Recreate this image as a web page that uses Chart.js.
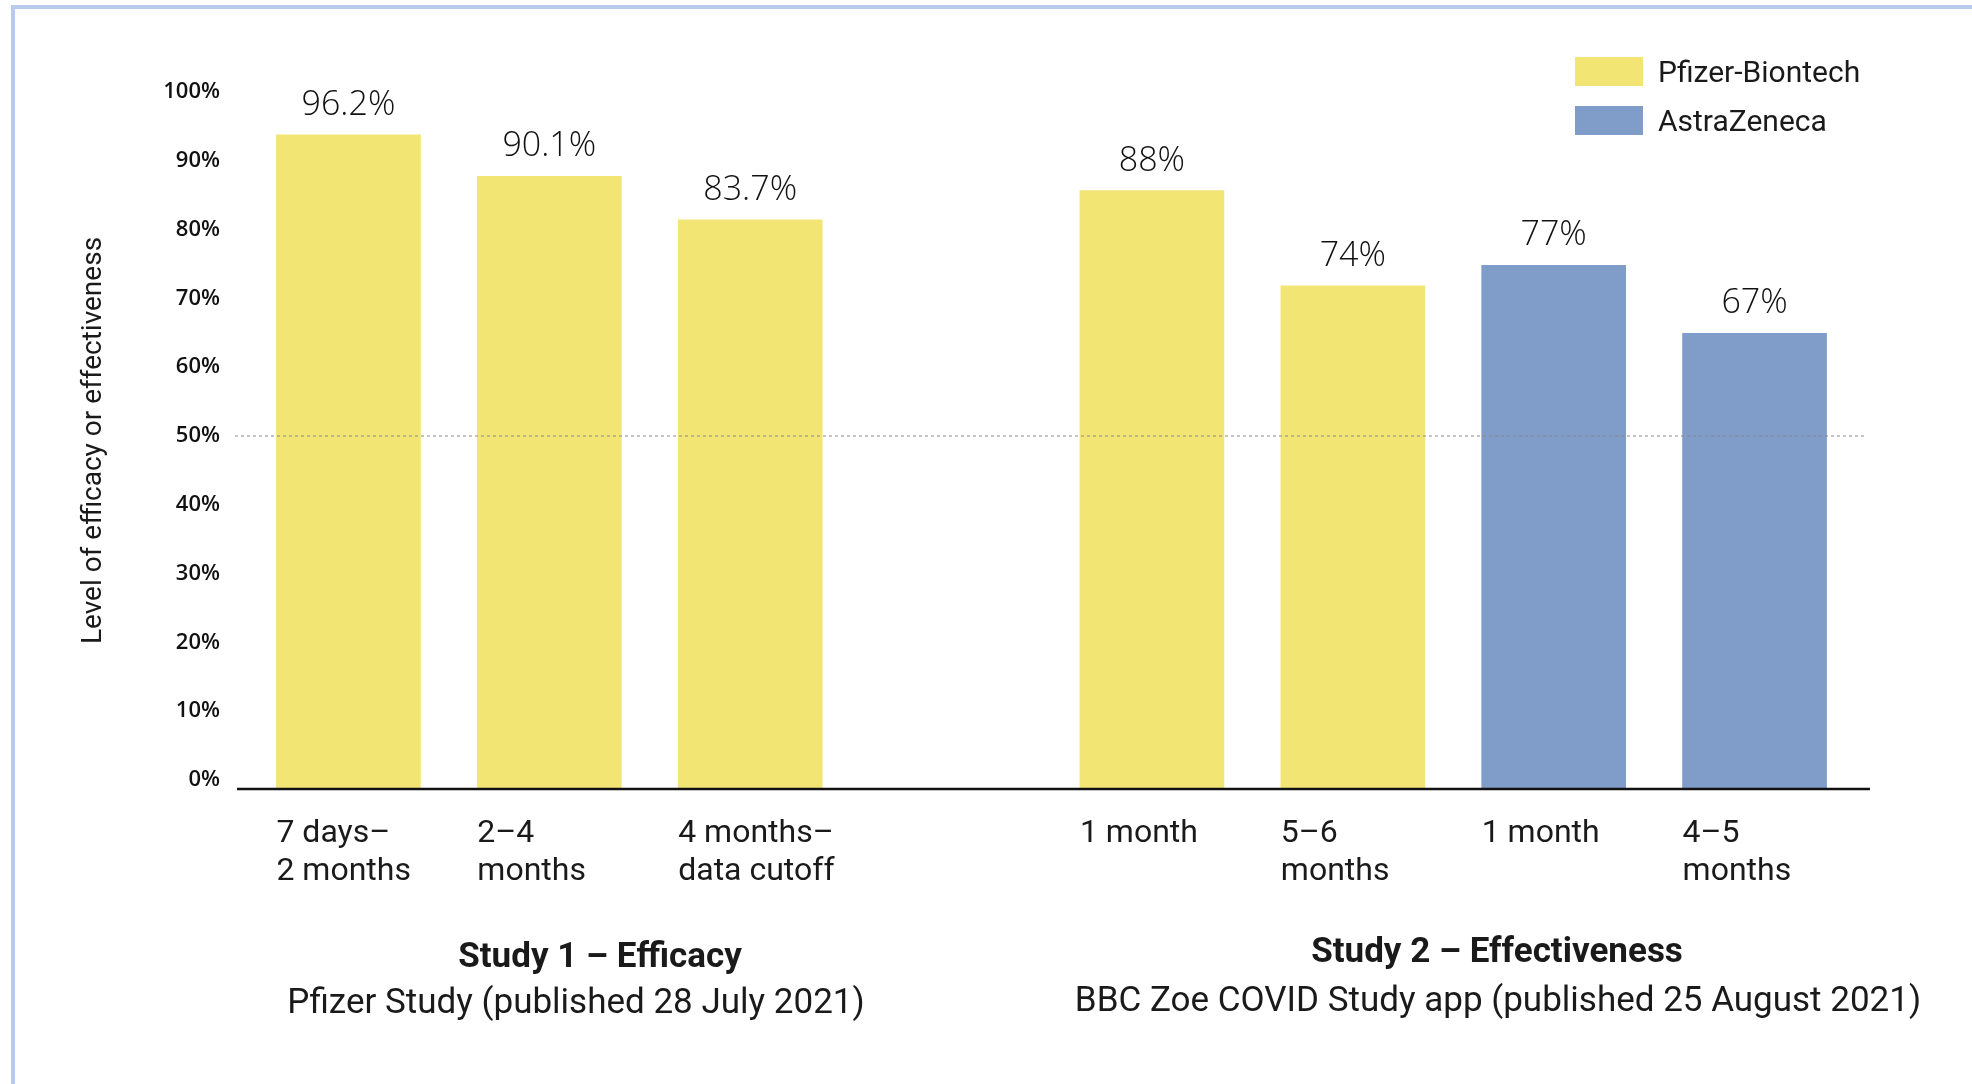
<!DOCTYPE html>
<html>
<head>
<meta charset="utf-8">
<script src="https://cdn.jsdelivr.net/npm/chart.js@4"></script>
<style>
  body { margin: 0; background: #fff; font-family: Roboto, sans-serif; color: #1a1a1a; }
  #frame { position: absolute; left: 11px; top: 5px; right: 0; bottom: 0; border-top: 4px solid #b9cbea; border-left: 4px solid #b9cbea; }
  #wrap { position: absolute; left: 0; top: 0; width: 1972px; height: 1084px; }
  .legend { position: absolute; left: 1575px; font-size: 30px; }
  .legend div { position: absolute; white-space: nowrap; }
  .box { width: 68px; height: 29px; }
  .lbl { left: 83px; line-height: 29px; }
  .study { position: absolute; transform: translateX(-50%); white-space: nowrap; font-size: 35px; line-height: 40px; }
  .study b { font-weight: 700; }
</style>
</head>
<body>
<div id="frame"></div>
<div id="wrap"><canvas id="grafico"></canvas></div>

<div class="legend" style="top:57px">
  <div class="box" style="background:#f3e574"></div><div class="lbl">Pfizer-Biontech</div>
</div>
<div class="legend" style="top:106px">
  <div class="box" style="background:#7f9dc8"></div><div class="lbl">AstraZeneca</div>
</div>

<div class="study" style="left:600px; top:936px"><b>Study 1 – Efficacy</b></div>
<div class="study" style="left:576px; top:982px">Pfizer Study (published 28 July 2021)</div>
<div class="study" style="left:1497px; top:931px"><b>Study 2 – Effectiveness</b></div>
<div class="study" style="left:1498px; top:980px">BBC Zoe COVID Study app (published 25 August 2021)</div>

<script>
// Dados do gráfico
const categorias = [['7 days–', '2 months'], ['2–4', 'months'], ['4 months–', 'data cutoff'], '', '1 month', ['5–6', 'months'], '1 month', ['4–5', 'months']];
const valoresPfizer = [96.2, 90.1, 83.7, null, 88, 74, null, null];
const valoresAstra = [null, null, null, null, null, null, 77, 67];
const ticksY = [0, 10, 20, 30, 40, 50, 60, 70, 80, 90, 100];

const corPfizer = '#f3e574';
const corAstra = '#7f9dc8';

// Plugin: linha de base, linha tracejada dos 50% e rótulos dos valores
const desenhoExtra = {
    id: 'desenhoExtra',
    afterDatasetsDraw(chart) {
        const ctx = chart.ctx;
        const area = chart.chartArea;
        const y0 = chart.scales.y.getPixelForValue(0);
        const y50 = chart.scales.yl.getPixelForValue(50);

        ctx.save();
        ctx.strokeStyle = '#888';
        ctx.lineWidth = 1;
        ctx.setLineDash([3, 3]);
        ctx.beginPath();
        ctx.moveTo(area.left - 13, y50);
        ctx.lineTo(area.right + 9, y50);
        ctx.stroke();

        ctx.setLineDash([]);
        ctx.strokeStyle = '#111';
        ctx.lineWidth = 2.5;
        ctx.beginPath();
        ctx.moveTo(area.left - 11, y0);
        ctx.lineTo(area.right + 15, y0);
        ctx.stroke();

        ctx.fillStyle = '#111';
        ctx.font = '300 34px "Open Sans"';
        ctx.textAlign = 'center';
        ctx.textBaseline = 'alphabetic';
        chart.data.datasets.forEach((ds, i) => {
            chart.getDatasetMeta(i).data.forEach((bar, j) => {
                const v = ds.data[j];
                if (v === null) return;
                ctx.fillText(v + '%', bar.x, bar.y - 20);
            });
        });
        ctx.restore();
    }
};

const ctx = document.getElementById('grafico').getContext('2d');
new Chart(ctx, {
    type: 'bar',
    data: {
        labels: categorias,
        datasets: [
            { label: 'Pfizer-Biontech', data: valoresPfizer, backgroundColor: corPfizer, barThickness: 144, yAxisID: 'y' },
            { label: 'AstraZeneca', data: valoresAstra, backgroundColor: corAstra, barThickness: 144, yAxisID: 'y' }
        ]
    },
    options: {
        responsive: true,
        maintainAspectRatio: false,
        animation: false,
        layout: { padding: { top: 92, right: 117, left: 0, bottom: 0 } },
        plugins: {
            legend: { display: false },
            tooltip: { enabled: false }
        },
        scales: {
            x: {
                stacked: true,
                grid: { display: false },
                border: { display: false },
                ticks: {
                    align: 'start',
                    labelOffset: -72,
                    padding: 18,
                    color: '#1a1a1a',
                    font: { family: 'Roboto', size: 32, lineHeight: 1.18 },
                    maxRotation: 0,
                    autoSkip: false
                },
                afterFit(scale) { scale.height = 295; }
            },
            y: {
                display: false,
                stacked: true,
                min: 0,
                max: 102.5
            },
            yl: {
                position: 'left',
                min: -1.308,
                max: 100,
                grid: { display: false, drawTicks: false },
                border: { display: false },
                afterBuildTicks(scale) { scale.ticks = ticksY.map(v => ({ value: v })); },
                afterFit(scale) { scale.width = 248; },
                ticks: {
                    padding: 28,
                    color: '#111',
                    font: { family: 'Open Sans', size: 22, weight: '600' },
                    callback: v => v + '%'
                },
                title: {
                    display: true,
                    text: 'Level of efficacy or effectiveness',
                    color: '#1a1a1a',
                    font: { family: 'Roboto', size: 28, lineHeight: 1.2 },
                    padding: { top: 77, bottom: 0 }
                }
            }
        }
    },
    plugins: [desenhoExtra]
});
</script>
</body>
</html>
